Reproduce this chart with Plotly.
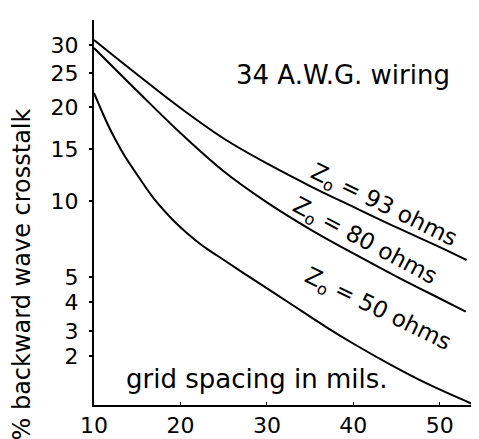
import numpy as np
import plotly.graph_objects as go

# ---- data ----
spacing_93 = [10, 15, 20, 25, 30, 35, 40, 45, 50, 53.1]
crosstalk_93 = [31.0, 24.78, 19.88, 16.25, 13.61, 11.44, 9.61, 8.26, 6.97, 6.12]

spacing_80 = [10, 15, 20, 25, 30, 35, 40, 45, 50, 53.0]
crosstalk_80 = [29.46, 22.35, 16.9, 12.86, 9.91, 8.14, 6.55, 5.03, 4.14, 3.67]

spacing_50 = [10.0, 11.04, 12.08, 13.01, 13.7, 15.09, 17.05, 19.13, 20.87, 22.6,
              24.33, 27.8, 32.43, 37.05, 40.17, 44.34, 48.61, 54.05]
crosstalk_50 = [22.06, 19.17, 16.9, 15.12, 14.13, 12.4, 10.1, 8.75, 7.83, 7.04,
                6.38, 5.07, 4.0, 3.1, 2.46, 1.82, 1.43, 1.0]

y_tick_values = [2, 3, 4, 5, 10, 15, 20, 25, 30]
y_tick_labels = ["2", "3", "4", "5", "10", "15", "20", "25", "30"]
x_tick_values = [10, 20, 30, 40, 50]

# hand-drawn (non-uniform) crosstalk scale of the original figure:
# value -> position along the axis
SCALE_VALUES = [1, 2, 3, 4, 5, 10, 15, 20, 25, 30, 35]
SCALE_POS = [0, 49, 74, 103, 128, 204, 256, 298, 332, 360, 385]


def scale(v):
    return np.interp(v, SCALE_VALUES, SCALE_POS)


FONT = "DejaVu Sans"
fig = go.Figure()
for xs, ys in [(spacing_93, crosstalk_93), (spacing_80, crosstalk_80), (spacing_50, crosstalk_50)]:
    fig.add_trace(go.Scatter(x=xs, y=scale(ys), mode="lines",
                             line=dict(color="black", width=2, shape="spline", smoothing=1.0),
                             showlegend=False, hoverinfo="skip"))

fig.update_layout(
    width=479, height=439,
    margin=dict(l=86, r=4, t=12, b=42),
    paper_bgcolor="white", plot_bgcolor="white",
    font=dict(family=FONT, size=24, color="black"),
    showlegend=False,
)
fig.update_xaxes(range=[10, 55], tickvals=x_tick_values, showgrid=False, zeroline=False,
                 showline=True, linecolor="black", linewidth=2,
                 ticks="inside", ticklen=3, tickwidth=1, tickcolor="black",
                 tickfont=dict(size=22), ticklabelstandoff=0)
fig.update_yaxes(range=[0, 385], tickvals=list(scale(y_tick_values)), ticktext=y_tick_labels,
                 showgrid=False, zeroline=False,
                 showline=True, linecolor="black", linewidth=2,
                 ticks="outside", ticklen=3, tickwidth=2, tickcolor="black",
                 tickfont=dict(size=22), ticklabelstandoff=6)

ann_font = dict(family=FONT, size=26, color="black")
lab_font = dict(family=FONT, size=23, color="black")


def note(text, x, y, font, angle=0):
    fig.add_annotation(text=text, xref="paper", yref="paper", x=x, y=y,
                       xanchor="center", yanchor="middle", textangle=angle,
                       showarrow=False, font=font)


note("% backward wave crosstalk", -0.186, 0.338, dict(family=FONT, size=24, color="black"), -90)
note("34 A.W.G. wiring", 0.64, 0.857, ann_font)
note("grid spacing in mils.", 0.418, 0.068, ann_font)
note("Z<sub>o</sub> = 93 ohms", 0.743, 0.517, lab_font, 26)
note("Z<sub>o</sub> = 80 ohms", 0.695, 0.424, lab_font, 28)
note("Z<sub>o</sub> = 50 ohms", 0.728, 0.247, lab_font, 26)

fig.write_html("out.html")
